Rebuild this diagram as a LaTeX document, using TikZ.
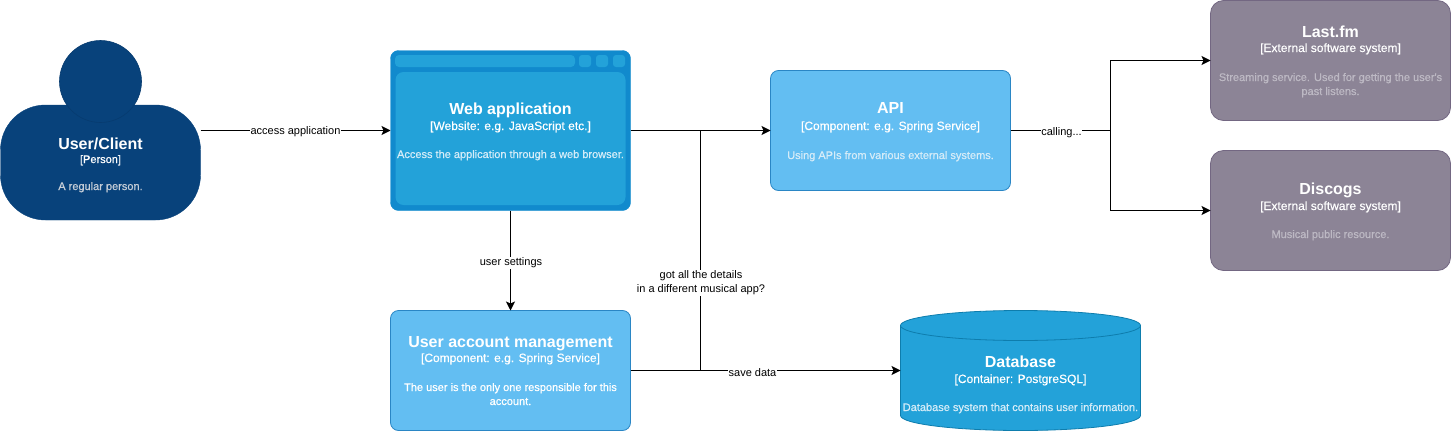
\documentclass[tikz,border=0pt]{standalone}
\usepackage{fontspec}
\setmainfont{Liberation Sans}
\newfontfamily\descfont[FakeBold=0.6]{Liberation Sans}
\newfontfamily\kindfont[FakeBold=0.3]{Liberation Sans}
\usetikzlibrary{arrows.meta}
\definecolor{personc}{HTML}{08427B}
\definecolor{persons}{HTML}{073B6F}
\definecolor{weboutc}{HTML}{118ACD}
\definecolor{webinc}{HTML}{23A2D9}
\definecolor{apic}{HTML}{63BEF2}
\definecolor{apis}{HTML}{2A86C5}
\definecolor{extc}{HTML}{8C8496}
\definecolor{exts}{HTML}{736782}
\definecolor{dbs}{HTML}{0E7DAD}
\definecolor{webdesc}{HTML}{D5ECF8}
\definecolor{greydesc}{HTML}{BDB9C4}
\definecolor{persdesc}{HTML}{C6CED8}
\tikzset{
  x=1pt,y=-1pt,
  box/.style={draw,rounded corners=#1,inner sep=0pt,outer sep=0pt},
  comp/.style={box=8pt,fill=apic,draw=apis,line width=0.8pt,minimum width=240pt,minimum height=120pt},
  ext/.style={box=13pt,fill=extc,draw=exts,line width=0.8pt,minimum width=240pt,minimum height=120pt},
  title/.style={anchor=base,inner sep=0pt,text=white,font=\fontsize{16}{16}\selectfont\bfseries},
  kind/.style={anchor=base,inner sep=0pt,text=white,font=\fontsize{12}{12}\kindfont},
  desc/.style={anchor=base,inner sep=0pt,text=#1,font=\fontsize{11}{11}\descfont},
  conn/.style={draw=black,line width=1pt,-{Stealth[length=9pt,width=9pt,inset=2pt]}},
  plain/.style={draw=black,line width=1pt},
  elabel/.style={fill=white,inner sep=0.5pt,text=black,font=\fontsize{11}{14}\selectfont,align=center},
}
\begin{document}
\begin{tikzpicture}
\useasboundingbox (0,0) rectangle (1451,431);
% person
\node[box=45pt,fill=personc,draw=personc,minimum width=200pt,minimum height=115pt] (user) at (100.5,162.5) {};
\node[circle,fill=personc,draw=persons,line width=0.6pt,minimum size=82pt,inner sep=0pt] (head) at (100.5,81.5) {};
\node[title] (t1) at (100.5,149) {User/Client};
\node[kind,font=\fontsize{11}{11}\descfont] (k1) at (100.5,163) {[Person]};
\node[desc=persdesc] (d1) at (100.5,190) {A regular person.};
% web application
\node[box=8pt,fill=weboutc,draw=weboutc,minimum width=240pt,minimum height=160pt] (web) at (510.5,130.5) {};
\node[box=4pt,fill=webinc,draw=none,minimum width=180pt,minimum height=12pt] (bar) at (485,61) {};
\node[box=3pt,fill=webinc,draw=none,minimum size=12pt] (b1) at (585,61) {};
\node[box=3pt,fill=webinc,draw=none,minimum size=12pt] (b2) at (602,61) {};
\node[box=3pt,fill=webinc,draw=none,minimum size=12pt] (b3) at (619,61) {};
\node[box=8pt,fill=webinc,draw=none,minimum width=230pt,minimum height=133pt] (panel) at (510.5,138.5) {};
\node[title] (t2) at (510.5,114) {Web application};
\node[kind] (k2) at (510.5,130) {[Website: e.g. JavaScript etc.]};
\node[desc=webdesc] (d2) at (510.5,158) {Access the application through a web browser.};
% API
\node[comp] (api) at (890.5,130.5) {};
\node[title] (t3) at (890.5,113) {API};
\node[kind] (k3) at (890.5,130) {[Component: e.g. Spring Service]};
\node[desc=webdesc] (d3) at (890.5,159) {Using APIs from various external systems.};
% Last.fm
\node[ext] (last) at (1330.5,60.5) {};
\node[title] (t4) at (1330.5,37) {Last.fm};
\node[kind] (k4) at (1330.5,52) {[External software system]};
\node[desc=greydesc] (d4a) at (1330.5,81) {Streaming service. Used for getting the user's};
\node[desc=greydesc] (d4b) at (1330.5,95) {past listens.};
% Discogs
\node[ext] (disc) at (1330.5,210.5) {};
\node[title] (t5) at (1330.5,194) {Discogs};
\node[kind] (k5) at (1330.5,210) {[External software system]};
\node[desc=greydesc] (d5) at (1330.5,238) {Musical public resource.};
% User account management
\node[comp] (uam) at (510.5,370.5) {};
\node[title] (t6) at (510.5,347) {User account management};
\node[kind] (k6) at (510.5,362) {[Component: e.g. Spring Service]};
\node[desc=white] (d6a) at (510.5,391) {The user is the only one responsible for this};
\node[desc=white] (d6b) at (510.5,405) {account.};
% Database
\node[minimum width=240pt,minimum height=120pt,inner sep=0pt,outer sep=0pt] (db) at (1020.5,370.5) {};
\path[fill=webinc,draw=dbs,line width=0.8pt]
  (db.west|-0,325.5) arc[start angle=180,end angle=0,x radius=120,y radius=-15]
  -- (db.east|-0,415.5) arc[start angle=0,end angle=-180,x radius=120,y radius=-15]
  -- cycle;
\path[draw=dbs,line width=0.8pt]
  (db.west|-0,325.5) arc[start angle=180,end angle=360,x radius=120,y radius=-15];
\node[title] (t7) at (1020.5,367) {Database};
\node[kind] (k7) at (1020.5,383) {[Container: PostgreSQL]};
\node[desc=webdesc] (d7) at (1020.5,411) {Database system that contains user information.};
% connectors
\coordinate (j1) at (700.5,130.5);
\coordinate (j2) at (700.5,370.5);
\coordinate (j3) at (1110.5,130.5);
\coordinate (j4) at (1110.5,60.5);
\coordinate (j5) at (1110.5,210.5);
\draw[conn] (user.east|-web.west) -- (web.west);
\node[elabel] (l1) at (295.5,132) {access application};
\draw[conn] (web.east) -- (api.west);
\draw[conn] (web.south) -- (uam.north);
\node[elabel] (l2) at (511,263) {user settings};
\draw[conn] (uam.east) -- (db.west);
\node[elabel] (l3) at (752.5,373) {save data};
\draw[plain] (j1) -- (j2);
\node[elabel] (l4) at (701,283) {got all the details\\in a different musical app?};
\draw[plain] (api.east) -- (j3);
\node[elabel] (l5) at (1061.5,133) {calling...};
\draw[conn] (j3) -- (j4) -- (last.west);
\draw[conn] (j3) -- (j5) -- (disc.west);
\end{tikzpicture}
\end{document}
